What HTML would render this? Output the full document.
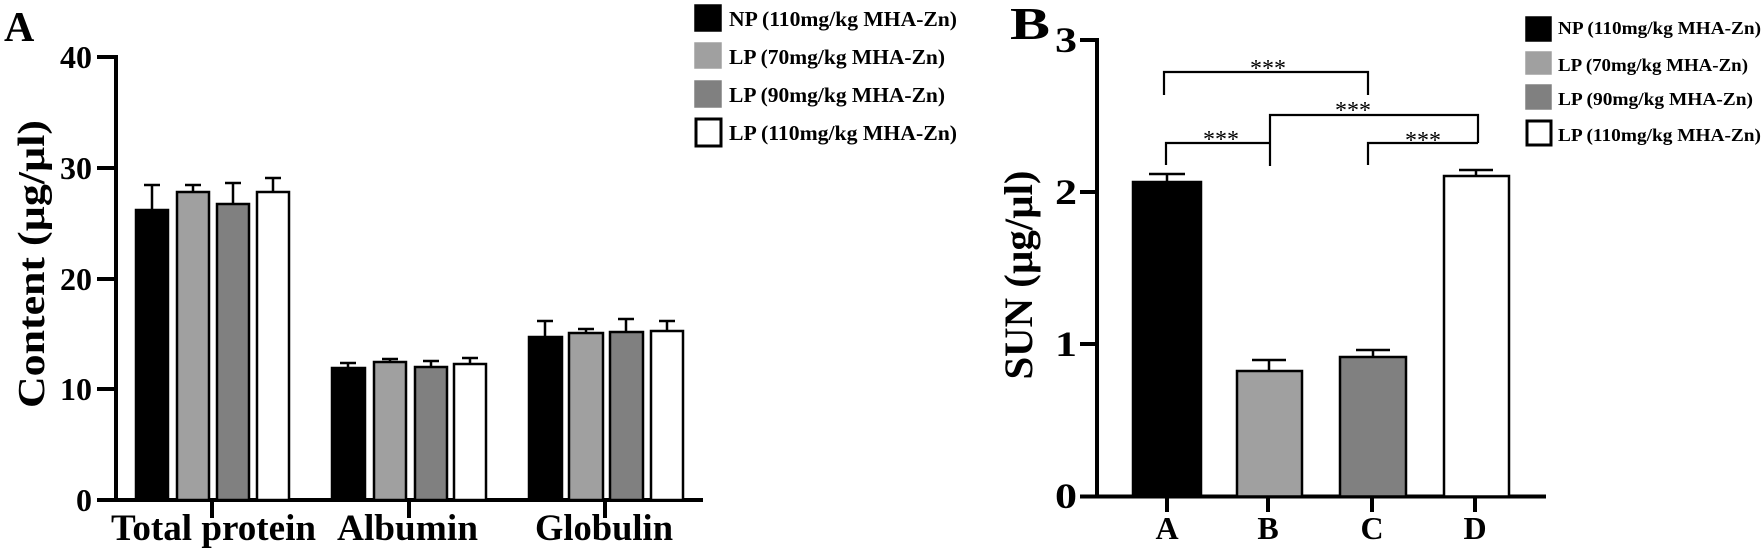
<!DOCTYPE html>
<html><head><meta charset="utf-8"><style>
html,body{margin:0;padding:0;background:#fff}
svg{display:block}
text{font-family:"Liberation Serif",serif;font-weight:bold;fill:#000}
</style></head><body>
<svg width="1763" height="556" viewBox="0 0 1763 556" xmlns="http://www.w3.org/2000/svg">
<!-- Panel A -->
<text x="4" y="41" font-size="42">A</text>
<g stroke="#000" stroke-width="4" fill="none">
<line x1="116" y1="55" x2="116" y2="502"/>
<line x1="97" y1="500" x2="703" y2="500"/>
<line x1="97" y1="57" x2="116" y2="57"/>
<line x1="97" y1="168" x2="116" y2="168"/>
<line x1="97" y1="279" x2="116" y2="279"/>
<line x1="97" y1="389" x2="116" y2="389"/>
<line x1="212" y1="500" x2="212" y2="518"/>
<line x1="409" y1="500" x2="409" y2="518"/>
<line x1="605" y1="500" x2="605" y2="518"/>
</g>
<g font-size="32" text-anchor="end">
<text x="92" y="68">40</text>
<text x="92" y="179">30</text>
<text x="92" y="290">20</text>
<text x="92" y="400">10</text>
<text x="92" y="511">0</text>
</g>
<text transform="translate(44,264) rotate(-90)" font-size="38" text-anchor="middle" textLength="288" lengthAdjust="spacingAndGlyphs">Content (µg/µl)</text>
<text x="111" y="540" font-size="37" textLength="205" lengthAdjust="spacingAndGlyphs">Total protein</text>
<text x="337" y="540" font-size="37" textLength="141" lengthAdjust="spacingAndGlyphs">Albumin</text>
<text x="535" y="540" font-size="37" textLength="138" lengthAdjust="spacingAndGlyphs">Globulin</text>
<g stroke="#000" stroke-width="2.5">
<rect x="136" y="210" width="32" height="290" fill="#000"/>
<rect x="177" y="192" width="32" height="308" fill="#a0a0a0"/>
<rect x="217" y="204" width="32" height="296" fill="#808080"/>
<rect x="257" y="192" width="32" height="308" fill="#fff"/>
<rect x="332" y="368" width="33" height="132" fill="#000"/>
<rect x="374" y="362" width="32" height="138" fill="#a0a0a0"/>
<rect x="415" y="367" width="32" height="133" fill="#808080"/>
<rect x="454" y="364" width="32" height="136" fill="#fff"/>
<rect x="529" y="337" width="33" height="163" fill="#000"/>
<rect x="569" y="333" width="34" height="167" fill="#a0a0a0"/>
<rect x="610" y="332" width="33" height="168" fill="#808080"/>
<rect x="651" y="331" width="32" height="169" fill="#fff"/>
</g>
<g stroke="#000" stroke-width="2.5" fill="none">
<path d="M152 210V185M144 185H160"/>
<path d="M193 192V185M185 185H201"/>
<path d="M233 204V183M225 183H241"/>
<path d="M273 192V178M265 178H281"/>
<path d="M348 368V363M340 363H356"/>
<path d="M390 362V359M382 359H398"/>
<path d="M431 367V361M423 361H439"/>
<path d="M470 364V358M462 358H478"/>
<path d="M545 337V321M537 321H553"/>
<path d="M586 333V329M578 329H594"/>
<path d="M626 332V319M618 319H634"/>
<path d="M667 331V321M659 321H675"/>
</g>
<g stroke="#000" stroke-width="1.5">
<rect x="695" y="5" width="26" height="26" fill="#000"/>
<rect x="695" y="43" width="26" height="25" fill="#a0a0a0" stroke="#a0a0a0"/>
<rect x="695" y="81" width="26" height="26" fill="#808080" stroke="#808080"/>
<rect x="696" y="119" width="25" height="27" fill="#fff" stroke-width="3"/>
</g>
<g font-size="21">
<text x="729" y="26" textLength="228" lengthAdjust="spacingAndGlyphs">NP (110mg/kg MHA-Zn)</text>
<text x="729" y="64" textLength="216" lengthAdjust="spacingAndGlyphs">LP (70mg/kg MHA-Zn)</text>
<text x="729" y="102" textLength="216" lengthAdjust="spacingAndGlyphs">LP (90mg/kg MHA-Zn)</text>
<text x="729" y="140" textLength="228" lengthAdjust="spacingAndGlyphs">LP (110mg/kg MHA-Zn)</text>
</g>

<!-- Panel B -->
<text x="1010" y="39" font-size="46" textLength="40" lengthAdjust="spacingAndGlyphs">B</text>
<g stroke="#000" stroke-width="4" fill="none">
<line x1="1097" y1="38" x2="1097" y2="498"/>
<line x1="1080" y1="496.5" x2="1546" y2="496.5"/>
<line x1="1080" y1="40" x2="1097" y2="40"/>
<line x1="1080" y1="192" x2="1097" y2="192"/>
<line x1="1080" y1="344" x2="1097" y2="344"/>
<line x1="1167" y1="496" x2="1167" y2="512"/>
<line x1="1268" y1="496" x2="1268" y2="512"/>
<line x1="1372" y1="496" x2="1372" y2="512"/>
<line x1="1475" y1="496" x2="1475" y2="512"/>
</g>
<g font-size="36" text-anchor="end">
<text x="1077" y="52" textLength="22" lengthAdjust="spacingAndGlyphs">3</text>
<text x="1077" y="204" textLength="22" lengthAdjust="spacingAndGlyphs">2</text>
<text x="1077" y="356" textLength="22" lengthAdjust="spacingAndGlyphs">1</text>
<text x="1077" y="508" textLength="22" lengthAdjust="spacingAndGlyphs">0</text>
</g>
<text transform="translate(1032,275) rotate(-90)" font-size="40" text-anchor="middle" textLength="209" lengthAdjust="spacingAndGlyphs">SUN (µg/µl)</text>
<g font-size="32" text-anchor="middle">
<text x="1167" y="539">A</text>
<text x="1268" y="539">B</text>
<text x="1372" y="539">C</text>
<text x="1475" y="539">D</text>
</g>
<g stroke="#000" stroke-width="2.5">
<rect x="1133" y="182" width="68" height="314.5" fill="#000"/>
<rect x="1237" y="371" width="65" height="125.5" fill="#a0a0a0"/>
<rect x="1340" y="357" width="66" height="139.5" fill="#808080"/>
<rect x="1444" y="176" width="65" height="320.5" fill="#fff"/>
</g>
<g stroke="#000" stroke-width="2.5" fill="none">
<path d="M1167 182V174M1149 174H1185"/>
<path d="M1269 371V360M1252 360H1286"/>
<path d="M1373 357V350M1356 350H1390"/>
<path d="M1476 176V170M1459 170H1493"/>
</g>
<g stroke="#000" stroke-width="2.2" fill="none">
<path d="M1164 95V72H1368V95"/>
<path d="M1270 166V115H1478V143"/>
<path d="M1166 165V143H1270"/>
<path d="M1368 165V143H1478"/>
</g>
<g font-size="24" text-anchor="middle">
<text x="1268" y="76" style="font-weight:normal">***</text>
<text x="1353" y="118" style="font-weight:normal">***</text>
<text x="1221" y="147" style="font-weight:normal">***</text>
<text x="1423" y="148" style="font-weight:normal">***</text>
</g>
<g stroke="#000" stroke-width="1.5">
<rect x="1526" y="17" width="25" height="24" fill="#000"/>
<rect x="1526" y="52" width="25" height="22" fill="#a0a0a0" stroke="#a0a0a0"/>
<rect x="1526" y="85" width="25" height="24" fill="#808080" stroke="#808080"/>
<rect x="1527" y="121" width="24" height="24" fill="#fff" stroke-width="3"/>
</g>
<g font-size="18">
<text x="1558" y="34" textLength="203" lengthAdjust="spacingAndGlyphs">NP (110mg/kg MHA-Zn)</text>
<text x="1558" y="71" textLength="190" lengthAdjust="spacingAndGlyphs">LP (70mg/kg MHA-Zn)</text>
<text x="1558" y="105" textLength="195" lengthAdjust="spacingAndGlyphs">LP (90mg/kg MHA-Zn)</text>
<text x="1558" y="141" textLength="203" lengthAdjust="spacingAndGlyphs">LP (110mg/kg MHA-Zn)</text>
</g>
</svg>
</body></html>
